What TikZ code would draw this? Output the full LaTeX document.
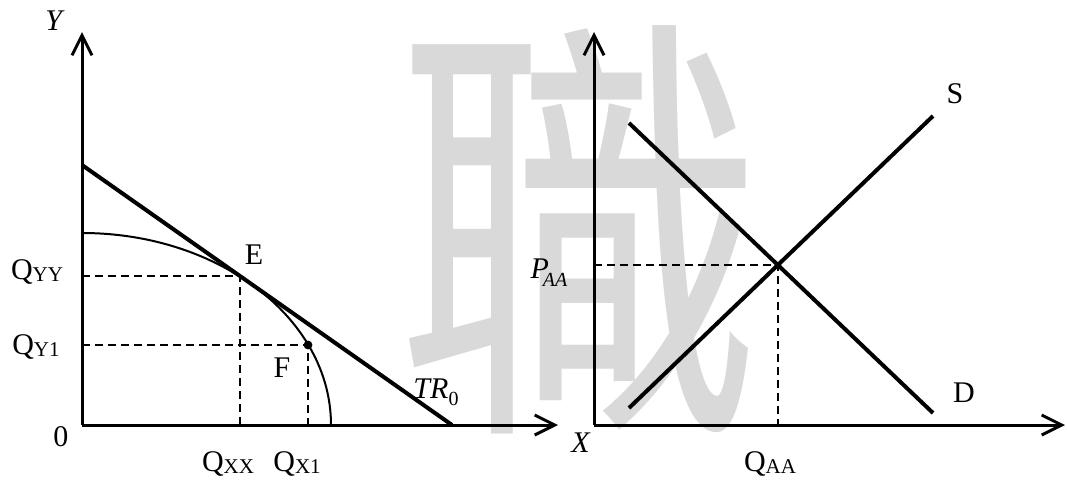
\documentclass[tikz,border=0pt]{standalone}
\usepackage{fontspec}
\setmainfont{Liberation Serif}
\newfontfamily\cjkfont{Noto Sans CJK TC}
\usetikzlibrary{arrows.meta}
\newcommand{\lowsub}[1]{\raisebox{-1pt}{\fontsize{10.5}{12}\selectfont #1}}

\begin{document}
\begin{tikzpicture}[x=0.5pt, y=0.5pt,
  font=\fontsize{15}{18}\selectfont,
  axis/.style={line width=1.5pt, -{Straight Barb[length=10pt, width=10pt]}},
  thickline/.style={line width=2pt},
  ppf/.style={line width=1pt},
  guide/.style={line width=1pt, dash pattern=on 4pt off 2.5pt},
  lbl/.style={inner sep=0pt},
  wm/.style={inner sep=0pt, text=black!15, xscale=0.82, font=\cjkfont\fontsize{222}{222}\selectfont},
]
\useasboundingbox (0,0) rectangle (1067,479);

\node[wm] (wmark) at (580,249) {職};

\coordinate (O1) at (82,54);
\coordinate (Ytop) at (82,447);
\coordinate (Xend) at (558,54);
\coordinate (TRa) at (82,314);
\coordinate (TRb) at (452,54);
\coordinate (E) at (240,203);
\coordinate (F) at (308,134);
\coordinate (PPFtop) at (82,246);

\coordinate (O2) at (594,54);
\coordinate (Ptop) at (594,447);
\coordinate (Qend) at (1065,54);
\coordinate (D1) at (629,356);
\coordinate (D2) at (933,66);
\coordinate (S1) at (629,71);
\coordinate (S2) at (933,363);
\path (intersection of D1--D2 and S1--S2) coordinate (A);

\draw[guide] (O1 |- E) -- (E) -- (E |- O1);
\draw[guide] (O1 |- F) -- (F) -- (F |- O1);
\draw[guide] (O2 |- A) -- (A) -- (A |- O2);

\draw[axis] (O1) -- (Ytop);
\draw[axis] (O1) -- (Xend);
\draw[ppf] (PPFtop) arc[start angle=90, end angle=0, x radius=249, y radius=192];
\draw[thickline] (TRa) -- (TRb);
\fill (F) circle[radius=2.2pt];

\draw[axis] (O2) -- (Ptop);
\draw[axis] (O2) -- (Qend);
\draw[thickline] (D1) -- (D2);
\draw[thickline] (S1) -- (S2);

\node[lbl] (ylbl) at (55,458) {\textit{Y}};
\node[lbl] (zero) at (61,42) {0};
\node[lbl] (qyy) at (37,207) {Q\lowsub{YY}};
\node[lbl] (qy1) at (36,132) {Q\lowsub{Y1}};
\node[lbl] (qxx) at (228,15) {Q\lowsub{XX}};
\node[lbl] (qx1) at (297,15) {Q\lowsub{X1}};
\node[lbl] (elbl) at (254,224) {E};
\node[lbl] (flbl) at (282,111) {F};
\node[lbl] (trlbl) at (436,87) {\textit{TR}\raisebox{-3.5pt}{\fontsize{10}{12}\selectfont 0}};
\node[lbl] (xlbl) at (581,36) {\textit{X}};
\node[lbl] (paa) at (549,206) {\textit{P}\kern-3pt\raisebox{-4pt}{\fontsize{10}{12}\selectfont\textit{AA}}};
\node[lbl] (qaa) at (770,15) {Q\lowsub{AA}};
\node[lbl] (slbl) at (955,385) {S};
\node[lbl] (dlbl) at (964,86) {D};
\end{tikzpicture}
\end{document}
